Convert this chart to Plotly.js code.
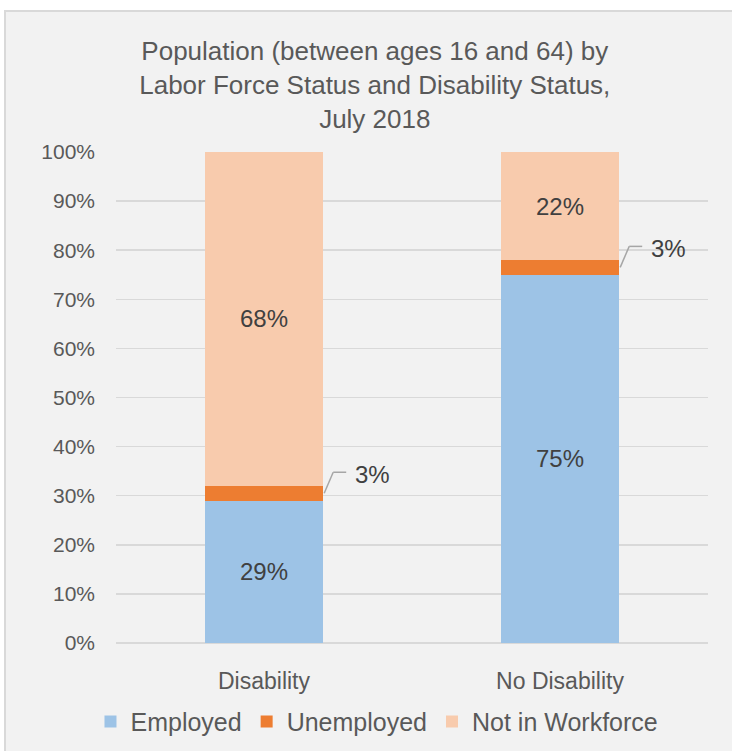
<!DOCTYPE html>
<html>
<head>
<meta charset="utf-8">
<script src="https://cdn.plot.ly/plotly-3.0.1.min.js"></script>
<style>
  html, body { margin: 0; padding: 0; background: #ffffff; }
  #frame { position: absolute; left: 4px; top: 10px; width: 728px; height: 741px;
           box-sizing: border-box; border: 2px solid #d9d9d9; border-right: none; border-bottom: none;
           background: #f2f2f2; }
  #chart { position: absolute; left: 0; top: 0; width: 732px; height: 751px; }
</style>
</head>
<body>
<div id="frame"></div>
<div id="chart"></div>
<script>
const categories = ["Disability", "No Disability"];
const employed = [29, 75];
const unemployed = [3, 3];
const notInWorkforce = [68, 22];
const seriesNames = ["Employed", "Unemployed", "Not in Workforce"];
const seriesColors = ["#9DC3E6", "#ED7D31", "#F8CBAD"];
const yTickVals = [0, 10, 20, 30, 40, 50, 60, 70, 80, 90, 100];
const yTickText = ["0%", "10%", "20%", "30%", "40%", "50%", "60%", "70%", "80%", "90%", "100%"];
const titleText = "Population (between ages 16 and 64) by<br>Labor Force Status and Disability Status,<br>July 2018";

const FONT = "'Liberation Sans', Arial, sans-serif";
const labelFont = { family: FONT, size: 24, color: "#404040" };

const traces = [
  { type: "bar", name: seriesNames[0], x: categories, y: employed,
    marker: { color: seriesColors[0] },
    text: employed.map(v => v + "%"), textposition: "inside", insidetextanchor: "middle",
    textfont: labelFont, hoverinfo: "none" },
  { type: "bar", name: seriesNames[1], x: categories, y: unemployed,
    marker: { color: seriesColors[1] }, textposition: "none", hoverinfo: "none" },
  { type: "bar", name: seriesNames[2], x: categories, y: notInWorkforce,
    marker: { color: seriesColors[2] },
    text: notInWorkforce.map(v => v + "%"), textposition: "inside", insidetextanchor: "middle",
    textfont: labelFont, hoverinfo: "none" }
];

const barHalf = 0.2;
const shapes = [];
const annotations = [];
categories.forEach((c, i) => {
  const yMid = employed[i] + unemployed[i] / 2;
  const xEdge = i + barHalf;
  const common = { type: "line", xref: "x", yref: "y", xsizemode: "pixel", ysizemode: "pixel",
                   xanchor: xEdge, yanchor: yMid, line: { color: "#a6a6a6", width: 1.5 } };
  shapes.push(Object.assign({}, common, { x0: 1, y0: 0, x1: 10, y1: 21 }));
  shapes.push(Object.assign({}, common, { x0: 10, y0: 21, x1: 23, y1: 21 }));
  annotations.push({ x: xEdge, y: yMid, xref: "x", yref: "y", text: unemployed[i] + "%",
                     showarrow: false, xanchor: "left", yanchor: "middle", xshift: 30, yshift: 19,
                     font: labelFont });
});

const layout = {
  width: 732, height: 751,
  paper_bgcolor: "rgba(0,0,0,0)", plot_bgcolor: "rgba(0,0,0,0)",
  margin: { l: 116, r: 24, t: 152, b: 108, autoexpand: false },
  barmode: "stack", bargap: 0.6,
  font: { family: FONT, color: "#595959" },
  title: { text: titleText, font: { family: FONT, size: 26, color: "#595959" },
           x: 0.512, xref: "container", xanchor: "center", y: 0.92, yref: "container", yanchor: "top" },
  xaxis: { type: "category", showgrid: false, zeroline: false, showline: false,
           tickfont: { family: FONT, size: 23, color: "#595959" }, ticklabelstandoff: 22 },
  yaxis: { range: [0, 100], tickvals: yTickVals, ticktext: yTickText, showgrid: true,
           gridcolor: "#d9d9d9", gridwidth: 1.5, zeroline: true, zerolinecolor: "#d9d9d9", zerolinewidth: 1.5,
           showline: false, tickfont: { family: FONT, size: 21, color: "#595959" }, ticklabelstandoff: 20 },
  legend: { orientation: "h", x: 0.515, xref: "container", xanchor: "center",
            y: 0.039, yref: "container", yanchor: "middle",
            font: { family: FONT, size: 25, color: "#595959" }, traceorder: "normal",
            bgcolor: "rgba(0,0,0,0)", itemwidth: 30 },
  shapes: shapes,
  annotations: annotations,
  showlegend: true
};

Plotly.newPlot("chart", traces, layout, { displayModeBar: false, staticPlot: true });
</script>
</body>
</html>
